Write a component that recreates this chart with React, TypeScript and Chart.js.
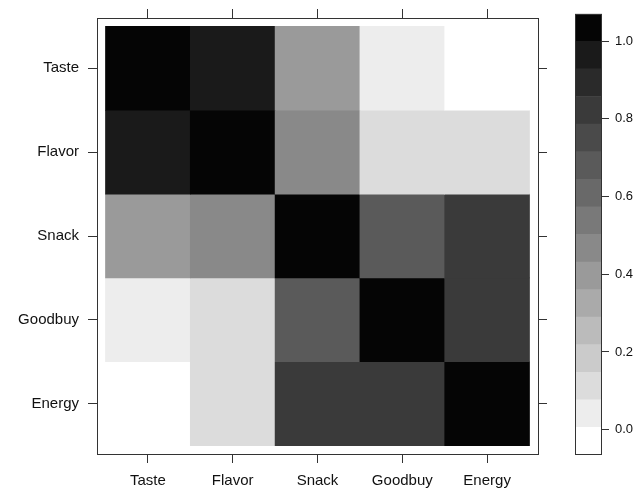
import React, { useEffect, useRef } from "react";
import { Chart, registerables } from "chart.js";

Chart.register(...registerables);

// ---- data ----
const categories = ["Taste", "Flavor", "Snack", "Goodbuy", "Energy"];
const tasteRow = [1.0, 0.96, 0.4, 0.04, -0.02];
const flavorRow = [0.96, 1.0, 0.47, 0.11, 0.12];
const snackRow = [0.4, 0.47, 1.0, 0.68, 0.82];
const goodbuyRow = [0.04, 0.11, 0.68, 1.0, 0.82];
const energyRow = [-0.02, 0.12, 0.82, 0.82, 1.0];
const rows = [tasteRow, flavorRow, snackRow, goodbuyRow, energyRow];

const keyMin = -0.065;
const keyMax = 1.07;
const keyBands = 16;
const keyTicks = [0, 0.2, 0.4, 0.6, 0.8, 1.0];
const greyLevels = [255, 237, 220, 203, 187, 170, 154, 137, 121, 105, 90, 74, 58, 42, 26, 5];

// ---- helpers ----
const FONT = "'Liberation Sans', Arial, Helvetica, sans-serif";
const LINE = "#333333";
const TEXT = "#111111";

const breaks = Array.from({ length: keyBands + 1 }, (_, i) => keyMin + (i * (keyMax - keyMin)) / keyBands);
const greyCss = (g: number) => `rgb(${g},${g},${g})`;
const bandOf = (v: number) => {
  for (let k = 0; k < keyBands; k++) {
    if (v >= breaks[k] && v < breaks[k + 1]) return k;
  }
  return v < keyMin ? 0 : keyBands - 1;
};
const colorFor = (v: number) => greyCss(greyLevels[bandOf(v)]);

const catTicks = (scale: any) => {
  scale.ticks = categories.map((_, i) => ({ value: i }));
};

const frameAxis = (position: string, size: number, showLabels: boolean, isX: boolean, reverse = false) => ({
  type: "linear",
  position,
  min: -0.6,
  max: 4.6,
  reverse,
  offset: false,
  afterBuildTicks: catTicks,
  afterFit: (s: any) => {
    if (isX) s.height = size;
    else s.width = size;
  },
  grid: {
    display: true,
    offset: false,
    drawOnChartArea: false,
    drawTicks: true,
    tickLength: 9,
    color: LINE,
    lineWidth: 1,
  },
  border: { display: true, color: LINE, width: 1 },
  ticks: {
    display: showLabels,
    autoSkip: false,
    maxRotation: 0,
    padding: isX ? 9 : 9,
    color: TEXT,
    font: { family: FONT, size: 15 },
    callback: (v: number) => categories[Math.round(v)] ?? "",
  },
});

const keyFrame = {
  id: "keyFrame",
  afterDraw(chart: any) {
    const { ctx, chartArea } = chart;
    ctx.save();
    ctx.strokeStyle = LINE;
    ctx.lineWidth = 1;
    const l = Math.round(chartArea.left) + 0.5;
    const t = Math.round(chartArea.top) + 0.5;
    const r = Math.round(chartArea.right) - 0.5;
    const b = Math.round(chartArea.bottom) - 0.5;
    ctx.strokeRect(l, t, r - l, b - t);
    ctx.restore();
  },
};

export default function App() {
  const mainRef = useRef<HTMLCanvasElement | null>(null);
  const keyRef = useRef<HTMLCanvasElement | null>(null);

  useEffect(() => {
    if (!mainRef.current || !keyRef.current) return;

    const datasets = rows.map((vals, r) => ({
      label: categories[r],
      data: categories.map((_, c) => ({ x: c, y: [r - 0.5, r + 0.5] })),
      backgroundColor: vals.map(colorFor),
      borderWidth: 0,
      grouped: false,
      barPercentage: 1,
      categoryPercentage: 1,
    }));

    const main = new Chart(mainRef.current, {
      type: "bar",
      data: { datasets } as any,
      options: {
        responsive: false,
        animation: false,
        devicePixelRatio: 1,
        layout: { padding: 0 },
        plugins: { legend: { display: false }, tooltip: { enabled: false } },
        scales: {
          x: frameAxis("bottom", 38, true, true),
          x2: frameAxis("top", 13, false, true),
          y: frameAxis("left", 97, true, false, true),
          y2: frameAxis("right", 22, false, false, true),
        } as any,
      },
    });

    const keyDatasets = greyLevels.map((g, k) => ({
      label: `band${k}`,
      data: [[breaks[k], breaks[k + 1]]],
      backgroundColor: greyCss(g),
      borderWidth: 0,
      grouped: false,
      barPercentage: 1,
      categoryPercentage: 1,
    }));

    const key = new Chart(keyRef.current, {
      type: "bar",
      data: { labels: [""], datasets: keyDatasets } as any,
      options: {
        responsive: false,
        animation: false,
        devicePixelRatio: 1,
        layout: { padding: { left: 15, top: 12, bottom: 37, right: 0 } },
        plugins: { legend: { display: false }, tooltip: { enabled: false } },
        scales: {
          x: { type: "category", display: false },
          y: {
            type: "linear",
            position: "right",
            min: keyMin,
            max: keyMax,
            afterBuildTicks: (s: any) => {
              s.ticks = keyTicks.map((v) => ({ value: v }));
            },
            afterFit: (s: any) => {
              s.width = 41;
            },
            grid: {
              display: true,
              drawOnChartArea: false,
              drawTicks: true,
              tickLength: 7,
              color: LINE,
            },
            border: { display: false },
            ticks: {
              padding: 6,
              color: TEXT,
              font: { family: FONT, size: 13 },
              callback: (v: number) => Number(v).toFixed(1),
            },
          },
        } as any,
      },
      plugins: [keyFrame],
    });

    return () => {
      main.destroy();
      key.destroy();
    };
  }, []);

  return (
    <div style={{ position: "absolute", left: 0, top: 0, width: 643, height: 492, background: "#fff" }}>
      <canvas
        ref={mainRef}
        width={560}
        height={492}
        style={{ position: "absolute", left: 0, top: 0, width: 560, height: 492 }}
      />
      <canvas
        ref={keyRef}
        width={83}
        height={492}
        style={{ position: "absolute", left: 560, top: 0, width: 83, height: 492 }}
      />
    </div>
  );
}
